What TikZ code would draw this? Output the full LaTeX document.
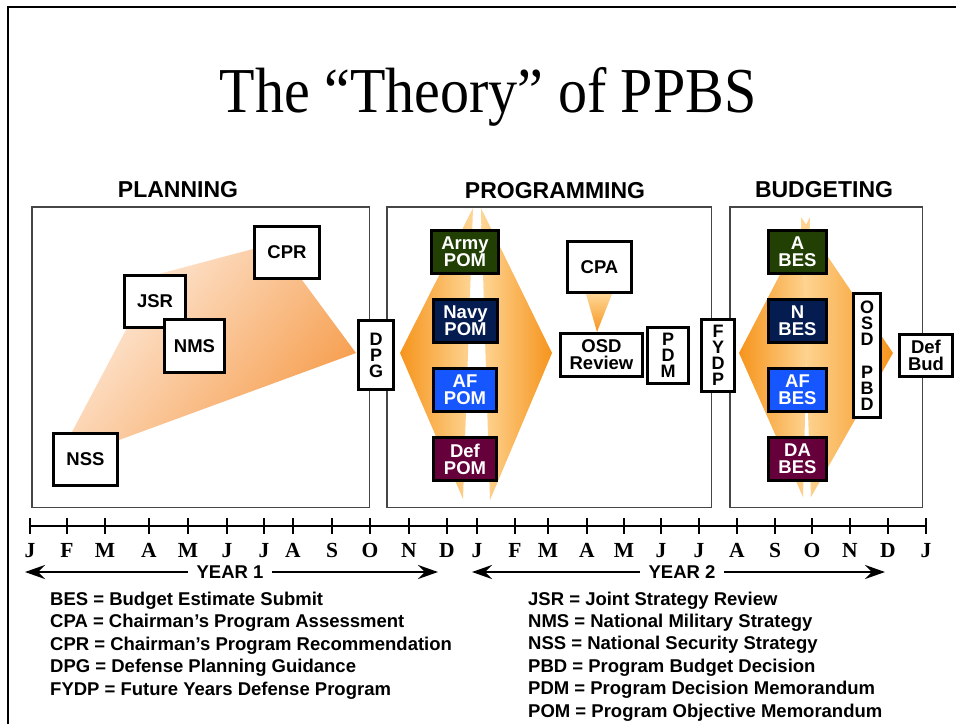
\documentclass[tikz,border=0pt]{standalone}
\usepackage{fontspec}
\setmainfont{Liberation Serif}
\setsansfont{Liberation Sans}
\usepackage{graphicx}
\usetikzlibrary{arrows.meta}
\definecolor{orDark}{RGB}{246,148,28}
\definecolor{orLight}{RGB}{254,214,150}
\definecolor{plDark}{RGB}{246,158,78}
\definecolor{plLight}{RGB}{254,236,222}
\definecolor{armyC}{RGB}{34,64,4}
\definecolor{navyC}{RGB}{4,28,80}
\definecolor{afC}{RGB}{22,86,255}
\definecolor{defC}{RGB}{102,0,58}
\definecolor{regionC}{RGB}{70,70,70}
\begin{document}
\begin{tikzpicture}[x=1pt,y=-1pt,
  box/.style={draw=black, line width=2.6pt, fill=white, inner sep=0pt, align=center,
    font=\sffamily\bfseries\fontsize{18.5}{17}\selectfont},
  vbox/.style={box, font=\sffamily\bfseries\fontsize{18}{16}\selectfont},
  cbox/.style={box, text=white},
  region/.style={draw=regionC, line width=1.5pt, inner sep=0pt},
  head/.style={font=\sffamily\bfseries\fontsize{23}{23}\selectfont, anchor=base, inner sep=0pt},
  month/.style={font=\rmfamily\bfseries\fontsize{21.5}{21.5}\selectfont, anchor=base, inner sep=0pt},
  legend/.style={font=\sffamily\bfseries\fontsize{18.5}{18.5}\selectfont, anchor=base west, inner sep=0pt},
  yearlbl/.style={font=\sffamily\bfseries\fontsize{18.5}{18.5}\selectfont, fill=white, inner xsep=9pt, inner ysep=2pt},
  yeararrow/.style={line width=2.8pt, {Stealth[length=20pt,width=14pt,inset=7pt]}-{Stealth[length=20pt,width=14pt,inset=7pt]}},
  tick/.style={line width=2.6pt}
]
\useasboundingbox (0,0) rectangle (956,724);
\fill[white] (0,0) rectangle (956,724);
% outer frame
\draw[line width=2pt] (8,724) -- (8,7) -- (956,7);

% title
\node[anchor=base, font=\rmfamily\fontsize{64}{70}\selectfont, inner sep=0pt] (title) at (488,112)
  {\scalebox{0.907}[1]{The “Theory” of PPBS}};

% headings
\node[head] (hplan) at (178,197) {PLANNING};
\node[head] (hprog) at (555,198) {PROGRAMMING};
\node[head] (hbudg) at (824,197.5) {BUDGETING};

% region boxes
\node[region, minimum width=337.5pt, minimum height=300.5pt] (planbox) at (200.5,357) {};
\node[region, minimum width=324.5pt, minimum height=300.5pt] (progbox) at (549,357) {};
\node[region, minimum width=192.5pt, minimum height=300.5pt] (budgbox) at (826,357) {};

% planning funnel
\shade[top color=plLight, bottom color=plDark, shading angle=50]
  (72,432) -- (155,275) -- (253,249) -- (302,280) -- (356,353) -- (119,440) -- cycle;

% programming diamond halves
\shade[left color=orDark, right color=orLight] (400,353) -- (473,208) -- (463,499) -- cycle;
\shade[left color=orLight, right color=orDark] (552,353) -- (481,208) -- (490,500) -- cycle;
% CPA funnel
\shade[top color=orLight, bottom color=orDark] (586,294) -- (612,294) -- (597,332) -- cycle;

% budgeting diamond halves
\shade[left color=orDark, right color=orLight] (739,353) -- (810,217) -- (803,497) -- cycle;
\shade[left color=orLight, right color=orDark] (893,353) -- (801,217) -- (811,497) -- cycle;

% planning boxes
\node[box, minimum width=65.4pt, minimum height=52.4pt] (cpr) at (287,252.5) {CPR};
\node[box, minimum width=61.4pt, minimum height=52.4pt] (jsr) at (155,301.5) {JSR};
\node[box, minimum width=60.4pt, minimum height=53.4pt] (nms) at (194.5,346) {NMS};
\node[box, minimum width=64.4pt, minimum height=52.4pt] (nss) at (85.5,459.5) {NSS};
\node[vbox, minimum width=35.4pt, minimum height=69.4pt] (dpg) at (376,355) {D\\P\\G};

% programming boxes
\node[cbox, fill=armyC, minimum width=67.4pt, minimum height=43.4pt] (armypom) at (465,252) {Army\\POM};
\node[cbox, fill=navyC, minimum width=64.4pt, minimum height=43.4pt] (navypom) at (465.5,321) {Navy\\POM};
\node[cbox, fill=afC, minimum width=63.4pt, minimum height=43.4pt] (afpom) at (465,390) {AF\\POM};
\node[cbox, fill=defC, minimum width=63.4pt, minimum height=43.4pt] (defpom) at (465,459) {Def\\POM};
\node[box, minimum width=64.4pt, minimum height=51.4pt] (cpa) at (599.5,267) {CPA};
\node[box, minimum width=82.4pt, minimum height=43.4pt] (osdrev) at (601.5,355) {OSD\\Review};
\node[vbox, minimum width=41.4pt, minimum height=56.4pt] (pdm) at (668,355.5) {P\\D\\M};
\node[vbox, minimum width=33.4pt, minimum height=72.4pt] (fydp) at (718,355.5) {F\\Y\\D\\P};

% budgeting boxes
\node[cbox, fill=armyC, minimum width=58.4pt, minimum height=43.4pt] (abes) at (797.5,252) {A\\BES};
\node[cbox, fill=navyC, minimum width=58.4pt, minimum height=43.4pt] (nbes) at (797.5,321) {N\\BES};
\node[cbox, fill=afC, minimum width=58.4pt, minimum height=43.4pt] (afbes) at (797.5,390) {AF\\BES};
\node[cbox, fill=defC, minimum width=58.4pt, minimum height=43.4pt] (dabes) at (797.5,459) {DA\\BES};
\node[vbox, minimum width=27.4pt, minimum height=124.4pt] (osdpbd) at (867,355.5) {O\\S\\D\\[17pt]P\\B\\D};
\node[box, minimum width=53.4pt, minimum height=42.4pt] (defbud) at (926,355.5) {Def\\Bud};

% timeline
\foreach \x/\l [count=\i] in {30/J,67/F,105/M,149/A,188/M,227/J,264/J,293/A,332/S,370/O,409/N,447/D,
  477/J,515/F,548/M,587/A,624/M,661/J,699/J,737/A,775/S,812/O,850/N,888/D,926/J} {
  \coordinate (t\i) at (\x,526);
  \draw[tick] (\x,518) -- (\x,534);
  \node[month] (ml\i) at (\x,557) {\l};
}
\draw[tick] (t1) -- (t25);

% year arrows
\coordinate (y1s) at (25,572);
\coordinate (y1e) at (438,572);
\draw[yeararrow] (y1s) -- (y1e);
\node[yearlbl] (year1) at (230,572) {YEAR 1};
\coordinate (y2s) at (472,572);
\coordinate (y2e) at (885,572);
\draw[yeararrow] (y2s) -- (y2e);
\node[yearlbl] (year2) at (682,572) {YEAR 2};

% legend
\node[legend] (lg1) at (50,605) {BES = Budget Estimate Submit};
\node[legend] (lg2) at (50,627.5) {CPA = Chairman’s Program Assessment};
\node[legend] (lg3) at (50,650) {CPR = Chairman’s Program Recommendation};
\node[legend] (lg4) at (50,672.5) {DPG = Defense Planning Guidance};
\node[legend] (lg5) at (50,695) {FYDP = Future Years Defense Program};
\node[legend] (lg6) at (528,605) {JSR = Joint Strategy Review};
\node[legend] (lg7) at (528,627.4) {NMS = National Military Strategy};
\node[legend] (lg8) at (528,649.8) {NSS = National Security Strategy};
\node[legend] (lg9) at (528,672.2) {PBD = Program Budget Decision};
\node[legend] (lg10) at (528,694.6) {PDM = Program Decision Memorandum};
\node[legend] (lg11) at (528,717) {POM = Program Objective Memorandum};
\end{tikzpicture}
\end{document}
